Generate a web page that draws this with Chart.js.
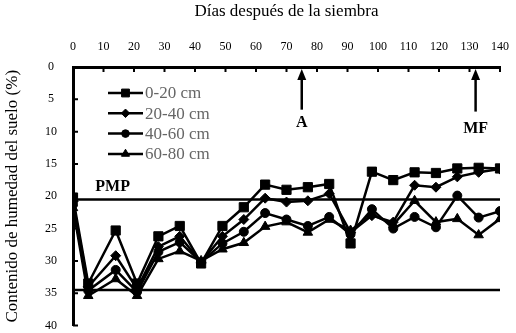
<!DOCTYPE html>
<html>
<head>
<meta charset="utf-8">
<script src="https://cdn.jsdelivr.net/npm/chart.js@4.4.1/dist/chart.umd.min.js"></script>
<style>
  html, body { margin: 0; padding: 0; background: #fff; }
  #wrap { width: 516px; height: 333px; }
</style>
</head>
<body>
<div id="wrap"><canvas id="chart" width="516" height="333"></canvas></div>
<script>
const FONT = "'Liberation Serif', 'Times New Roman', serif";

// días después de la siembra
const days = [0, 5, 14, 21, 28, 35, 42, 49, 56, 63, 70, 77, 84, 91, 98, 105, 112, 119, 126, 133, 140];

// contenido de humedad (%) por profundidad
const hum0_20  = [20.2, 33.5, 25.3, 33.5, 26.2, 24.6, 30.4, 24.6, 21.7, 18.2, 19.0, 18.6, 18.1, 27.3, 16.2, 17.5, 16.3, 16.4, 15.7, 15.6, 15.7];
const hum20_40 = [20.8, 34.0, 29.2, 34.3, 27.8, 26.2, 30.2, 26.2, 23.6, 20.3, 20.9, 20.7, 19.6, 25.6, 23.0, 24.0, 18.3, 18.6, 17.0, 16.3, 15.8];
const hum40_60 = [21.3, 34.6, 31.4, 34.8, 28.6, 27.1, 30.2, 27.3, 25.5, 22.6, 23.6, 24.6, 23.2, 25.9, 22.0, 25.0, 23.2, 24.8, 19.9, 23.3, 22.3];
const hum60_80 = [21.8, 35.4, 32.8, 35.4, 29.7, 28.5, 30.0, 28.2, 27.2, 24.7, 24.0, 25.6, 23.6, 25.3, 22.8, 24.4, 20.7, 24.0, 23.5, 26.0, 23.5];

const seriesLabels = ['0-20 cm', '20-40 cm', '40-60 cm', '60-80 cm'];
const seriesValues = [hum0_20, hum20_40, hum40_60, hum60_80];
const seriesMarkers = ['rect', 'rectRot', 'circle', 'triangle'];
const markerRadius = { rect: 6.5, rectRot: 5, circle: 4.5, triangle: 5.5 };

const xTicks = [0, 10, 20, 30, 40, 50, 60, 70, 80, 90, 100, 110, 120, 130, 140];
const yTicks = [0, 5, 10, 15, 20, 25, 30, 35, 40];

// PMP y límite inferior
const limitValues = [20.5, 34.5];
const pmpLabel = 'PMP';
const pmpLabelPos = [13, 18.6];

// flechas: antesis (A) y madurez fisiológica (MF)
const arrowDays = [75, 132];
const arrowLabels = ['A', 'MF'];
const arrowLabelY = [8.7, 9.6];
const arrowBottom = [6.6, 6.9];

const datasets = seriesLabels.map((label, i) => ({
  label,
  data: days.map((d, j) => ({ x: d, y: seriesValues[i][j] })),
  borderColor: '#000',
  backgroundColor: '#000',
  borderWidth: 2.5,
  pointStyle: seriesMarkers[i],
  pointRadius: markerRadius[seriesMarkers[i]],
  pointBorderWidth: 1,
  tension: 0,
  fill: false,
}));

limitValues.forEach(v => {
  datasets.push({
    label: '',
    data: [{ x: xTicks[0], y: v }, { x: xTicks[xTicks.length - 1], y: v }],
    borderColor: '#000',
    borderWidth: 2.5,
    pointRadius: 0,
    fill: false,
  });
});

function drawMarker(ctx, style, x, y, r) {
  ctx.beginPath();
  if (style === 'rect') {
    const s = Math.SQRT1_2 * r;
    ctx.rect(x - s, y - s, 2 * s, 2 * s);
  } else if (style === 'rectRot') {
    ctx.moveTo(x - r, y); ctx.lineTo(x, y - r); ctx.lineTo(x + r, y); ctx.lineTo(x, y + r);
    ctx.closePath();
  } else if (style === 'circle') {
    ctx.arc(x, y, r, 0, Math.PI * 2);
  } else {
    const h = r * Math.sqrt(3) / 2;
    ctx.moveTo(x, y - r); ctx.lineTo(x + h, y + r / 2); ctx.lineTo(x - h, y + r / 2);
    ctx.closePath();
  }
  ctx.fill();
  ctx.stroke();
}

const decorations = {
  id: 'decorations',
  afterDraw(chart) {
    const { ctx, chartArea: area, scales: { x, y } } = chart;
    ctx.save();
    ctx.strokeStyle = '#000';
    ctx.fillStyle = '#000';

    // inner tick marks
    ctx.lineWidth = 2;
    ctx.beginPath();
    xTicks.forEach(v => {
      const px = x.getPixelForValue(v);
      ctx.moveTo(px, area.top); ctx.lineTo(px, area.top + 5);
    });
    yTicks.forEach(v => {
      const py = y.getPixelForValue(v);
      ctx.moveTo(area.left, py); ctx.lineTo(area.left + 5, py);
    });
    ctx.stroke();

    // arrows
    ctx.lineWidth = 2.5;
    arrowDays.forEach((d, i) => {
      const px = x.getPixelForValue(d);
      const tip = y.getPixelForValue(0.3);
      const bottom = y.getPixelForValue(arrowBottom[i]);
      ctx.beginPath();
      ctx.moveTo(px, bottom); ctx.lineTo(px, tip + 8);
      ctx.stroke();
      ctx.beginPath();
      ctx.moveTo(px, tip); ctx.lineTo(px + 4.5, tip + 11); ctx.lineTo(px - 4.5, tip + 11);
      ctx.closePath();
      ctx.fill();
    });

    // text labels
    ctx.font = `bold 16px ${FONT}`;
    ctx.textAlign = 'center';
    ctx.textBaseline = 'middle';
    arrowDays.forEach((d, i) => {
      ctx.fillText(arrowLabels[i], x.getPixelForValue(d), y.getPixelForValue(arrowLabelY[i]));
    });
    ctx.fillText(pmpLabel, x.getPixelForValue(pmpLabelPos[0]), y.getPixelForValue(pmpLabelPos[1]));

    // legend
    ctx.font = `17px ${FONT}`;
    ctx.textAlign = 'left';
    seriesLabels.forEach((label, i) => {
      const ly = area.top + 26 + i * 20.3;
      const lx = area.left + 35;
      ctx.lineWidth = 2.5;
      ctx.beginPath();
      ctx.moveTo(lx, ly); ctx.lineTo(lx + 35, ly);
      ctx.stroke();
      ctx.lineWidth = 1;
      ctx.fillStyle = '#000';
      drawMarker(ctx, seriesMarkers[i], lx + 17.5, ly, markerRadius[seriesMarkers[i]] * 0.85);
      ctx.fillStyle = '#666';
      ctx.fillText(label, lx + 37, ly + 1);
    });
    ctx.restore();
  },
};

new Chart(document.getElementById('chart'), {
  type: 'line',
  data: { datasets },
  plugins: [decorations],
  options: {
    responsive: false,
    animation: false,
    devicePixelRatio: 1,
    layout: { padding: { left: 0, top: 0, right: 16, bottom: 7 } },
    plugins: { legend: { display: false }, tooltip: { enabled: false } },
    scales: {
      x: {
        type: 'linear',
        position: 'top',
        min: 0,
        max: 140,
        afterBuildTicks: s => { s.ticks = xTicks.map(v => ({ value: v })); },
        afterFit: s => { s.height = 67; },
        ticks: { color: '#000', font: { family: FONT, size: 12 }, padding: 0, maxRotation: 0, autoSkip: false },
        // tick marks are hidden; tickLength only sets the label gap
        grid: { display: false, drawTicks: true, tickLength: 13 },
        border: { color: '#000', width: 3 },
        title: { display: true, text: 'Días después de la siembra', color: '#000', font: { family: FONT, size: 17 }, padding: { top: 1, bottom: 0 } },
      },
      y: {
        type: 'linear',
        reverse: true,
        min: 0,
        max: 40,
        afterBuildTicks: s => { s.ticks = yTicks.map(v => ({ value: v })); },
        afterFit: s => { s.width = 73; },
        ticks: { color: '#000', font: { family: FONT, size: 12 }, padding: 0, crossAlign: 'center' },
        grid: { display: false, drawTicks: true, tickLength: 16 },
        border: { color: '#000', width: 3 },
        title: { display: true, text: 'Contenido de humedad del suelo (%)', color: '#000', font: { family: FONT, size: 17 }, padding: { top: 2, bottom: 0 } },
      },
    },
  },
});
</script>
</body>
</html>
